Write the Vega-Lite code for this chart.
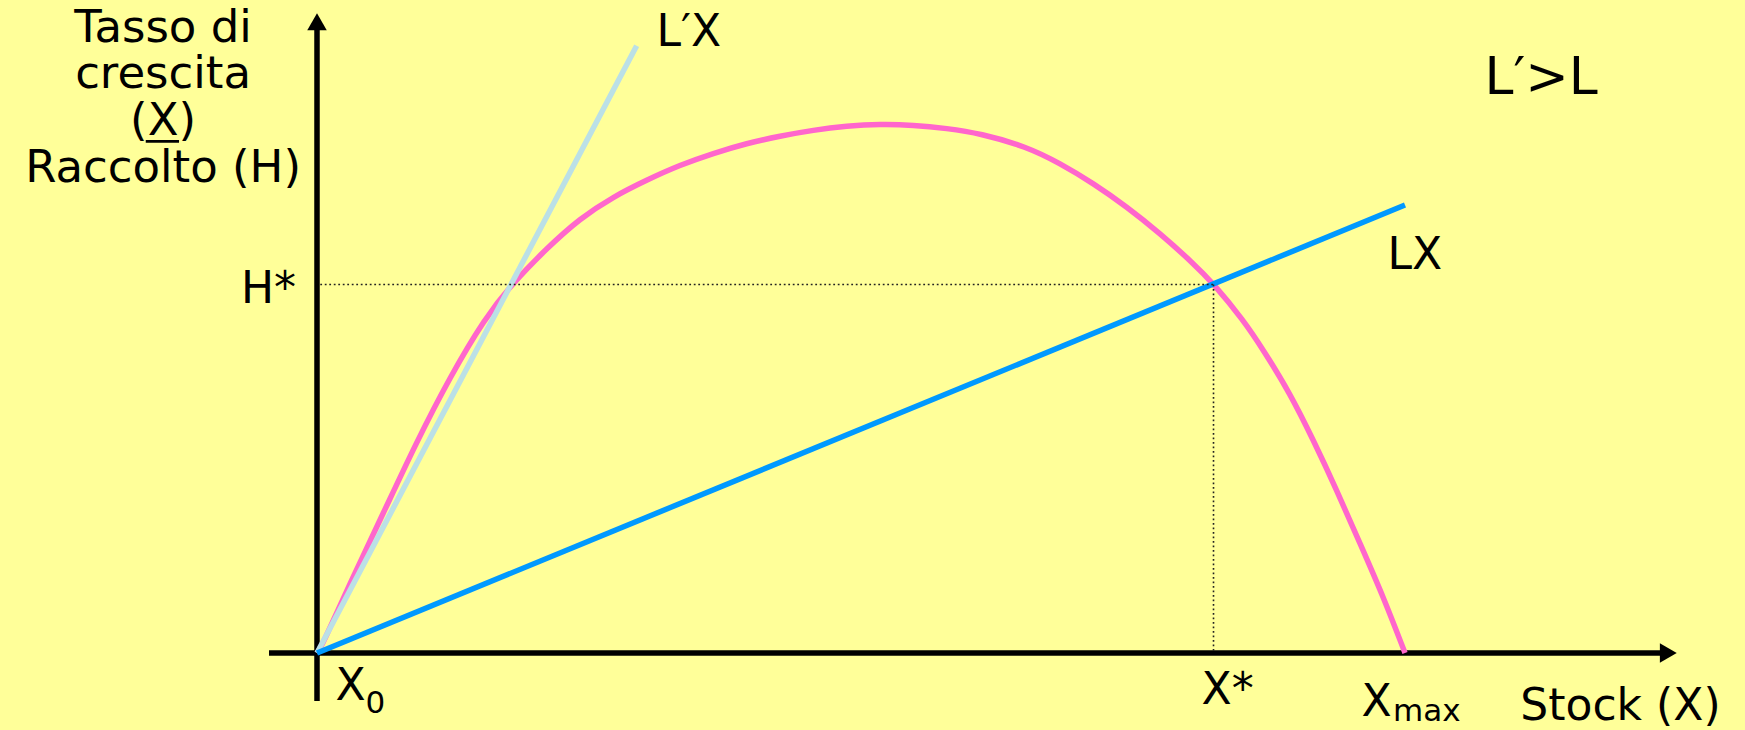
{
  "$schema": "https://vega.github.io/schema/vega-lite/v6.json",
  "width": 1745,
  "height": 730,
  "autosize": "none",
  "padding": 0,
  "background": "#FFFF99",
  "config": {"view": {"stroke": null}, "text": {"font": "DejaVu Sans", "color": "#000000"}},
  "datasets": {
    "curve": [
      {"x": 0, "y": 0}, {"x": 0.43, "y": 1.19}, {"x": 3.03, "y": 13.13}, {"x": 6.09, "y": 26.31},
      {"x": 9.16, "y": 39.79}, {"x": 12.22, "y": 51.98}, {"x": 15.44, "y": 63.09}, {"x": 17.9, "y": 69.44},
      {"x": 21.11, "y": 76.21}, {"x": 24.17, "y": 81.86}, {"x": 27.23, "y": 85.93}, {"x": 30.3, "y": 89.08},
      {"x": 33.36, "y": 91.9}, {"x": 36.43, "y": 94.11}, {"x": 39.49, "y": 95.99}, {"x": 42.56, "y": 97.36},
      {"x": 45.62, "y": 98.49}, {"x": 48.69, "y": 99.25}, {"x": 51.75, "y": 99.62}, {"x": 54.81, "y": 99.44},
      {"x": 57.88, "y": 98.81}, {"x": 60.94, "y": 97.87}, {"x": 65.23, "y": 95.35}, {"x": 68.29, "y": 92.22},
      {"x": 71.35, "y": 88.46}, {"x": 74.42, "y": 84.05}, {"x": 77.48, "y": 79.04}, {"x": 80.54, "y": 73.39},
      {"x": 82.38, "y": 69.62}, {"x": 85.14, "y": 62.71}, {"x": 86.98, "y": 57.06}, {"x": 89.43, "y": 48.91},
      {"x": 91.57, "y": 40.11}, {"x": 93.72, "y": 30.7}, {"x": 95.86, "y": 20.66}, {"x": 98.01, "y": 10.6},
      {"x": 100, "y": 0}
    ],
    "rays": [
      {"series": "L′X", "x": 0, "y": 0}, {"series": "L′X", "x": 29.38, "y": 114.37},
      {"series": "LX", "x": 0, "y": 0}, {"series": "LX", "x": 100, "y": 84.37}
    ],
    "axes": [
      {"x": 0, "x2": 0, "y": -9.04, "y2": 118.9},
      {"x": -4.41, "x2": 124.2, "y": 0, "y2": 0}
    ],
    "arrows": [
      {"x": 0, "y": 118.89, "shape": "triangle-up"},
      {"x": 124.2, "y": 0, "shape": "triangle-right"}
    ],
    "guides": [
      {"x": 0.3, "x2": 82.4, "y": 69.4, "y2": 69.4},
      {"x": 82.4, "x2": 82.4, "y": 69.4, "y2": 0}
    ],
    "underline": [{"x": -15.74, "x2": -12.68, "y": 96.37, "y2": 96.37}],
    "ytitle": [
      {"text": "Tasso di\ncrescita\n(X)\nRaccolto (H)", "x": -14.15, "y": 115.12}
    ],
    "rightlabels": [{"text": "H*", "x": -1.93, "y": 65.86}],
    "leftlabels": [
      {"text": "L′X", "x": 31.2, "y": 114.37},
      {"text": "LX", "x": 98.4, "y": 72.32},
      {"text": "X", "x": 1.7, "y": -8.85},
      {"text": "X*", "x": 81.3, "y": -9.6},
      {"text": "X", "x": 96.0, "y": -11.9},
      {"text": "Stock (X)", "x": 110.6, "y": -12.62}
    ],
    "biglabels": [{"text": "L′>L", "x": 107.3, "y": 105.27}],
    "subscripts": [
      {"text": "0", "x": 4.45, "y": -11.24},
      {"text": "max", "x": 98.9, "y": -12.8}
    ]
  },
  "encoding": {
    "x": {"field": "x", "type": "quantitative", "scale": {"domain": [-29.136, 131.25], "nice": false, "zero": false}, "axis": null},
    "y": {"field": "y", "type": "quantitative", "scale": {"domain": [-14.5, 122.98], "nice": false, "zero": false}, "axis": null}
  },
  "layer": [
    {
      "data": {"name": "axes"},
      "mark": {"type": "rule", "stroke": "#000000", "strokeWidth": 5.5, "strokeCap": "butt"},
      "encoding": {"x2": {"field": "x2"}, "y2": {"field": "y2"}}
    },
    {
      "data": {"name": "arrows"},
      "mark": {"type": "point", "filled": true, "size": 380, "color": "#000000", "opacity": 1},
      "encoding": {"shape": {"field": "shape", "type": "nominal", "scale": null}}
    },
    {
      "data": {"name": "curve"},
      "mark": {"type": "line", "stroke": "#FF66CC", "strokeWidth": 5.5, "interpolate": "basis", "strokeCap": "butt"},
      "encoding": {}
    },
    {
      "data": {"name": "rays"},
      "mark": {"type": "line", "strokeWidth": 5.5, "strokeCap": "butt"},
      "encoding": {
        "color": {"field": "series", "type": "nominal", "scale": {"domain": ["L′X", "LX"], "range": ["#BBE0E6", "#0099FF"]}, "legend": null}
      }
    },
    {
      "data": {"name": "guides"},
      "mark": {"type": "rule", "stroke": "#222222", "strokeWidth": 1.6, "strokeDash": [1.8, 2.7]},
      "encoding": {"x2": {"field": "x2"}, "y2": {"field": "y2"}}
    },
    {
      "data": {"name": "underline"},
      "mark": {"type": "rule", "stroke": "#000000", "strokeWidth": 2.7},
      "encoding": {"x2": {"field": "x2"}, "y2": {"field": "y2"}}
    },
    {
      "data": {"name": "ytitle"},
      "mark": {"type": "text", "fontSize": 45, "align": "center", "baseline": "alphabetic", "lineBreak": "\n", "lineHeight": 46.7},
      "encoding": {"text": {"field": "text"}}
    },
    {
      "data": {"name": "rightlabels"},
      "mark": {"type": "text", "fontSize": 44, "align": "right", "baseline": "alphabetic"},
      "encoding": {"text": {"field": "text"}}
    },
    {
      "data": {"name": "leftlabels"},
      "mark": {"type": "text", "fontSize": 44, "align": "left", "baseline": "alphabetic"},
      "encoding": {"text": {"field": "text"}}
    },
    {
      "data": {"name": "biglabels"},
      "mark": {"type": "text", "fontSize": 52, "align": "left", "baseline": "alphabetic"},
      "encoding": {"text": {"field": "text"}}
    },
    {
      "data": {"name": "subscripts"},
      "mark": {"type": "text", "fontSize": 31, "align": "left", "baseline": "alphabetic"},
      "encoding": {"text": {"field": "text"}}
    }
  ]
}
